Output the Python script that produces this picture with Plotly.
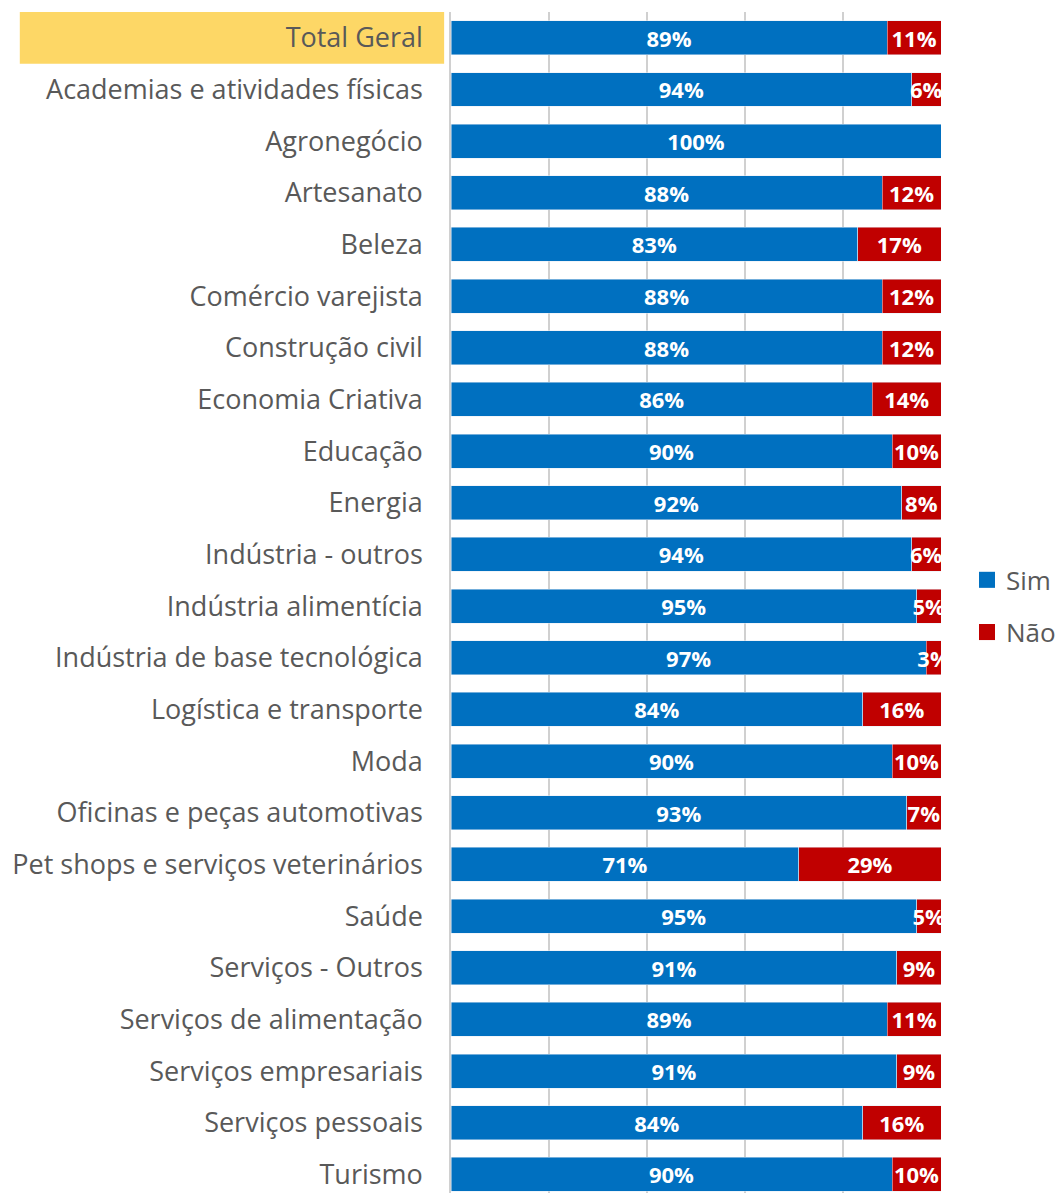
import plotly.graph_objects as go

categories = [
    "Total Geral", "Academias e atividades físicas", "Agronegócio", "Artesanato",
    "Beleza", "Comércio varejista", "Construção civil", "Economia Criativa",
    "Educação", "Energia", "Indústria - outros", "Indústria alimentícia",
    "Indústria de base tecnológica", "Logística e transporte", "Moda",
    "Oficinas e peças automotivas", "Pet shops e serviços veterinários", "Saúde",
    "Serviços - Outros", "Serviços de alimentação", "Serviços empresariais",
    "Serviços pessoais", "Turismo",
]
sim = [89, 94, 100, 88, 83, 88, 88, 86, 90, 92, 94, 95, 97, 84, 90, 93, 71, 95, 91, 89, 91, 84, 90]
nao = [11, 6, 0, 12, 17, 12, 12, 14, 10, 8, 6, 5, 3, 16, 10, 7, 29, 5, 9, 11, 9, 16, 10]
series_names = ["Sim", "Não"]

BLUE = "#0070C0"
RED = "#C00000"
GRAY = "#595959"
FONT = "Open Sans"
LBL = 22

fig = go.Figure()
for vals, name, color in [(sim, series_names[0], BLUE), (nao, series_names[1], RED)]:
    fig.add_trace(go.Bar(
        y=categories, x=vals, orientation="h", name=name, marker_color=color,
        text=[f"{v}%" if v > 0 else "" for v in vals], textposition="inside",
        insidetextanchor="middle", textangle=0, cliponaxis=False,
        textfont=dict(color="white", size=LBL, family=FONT, weight="bold"),
        showlegend=False, hoverinfo="x+y",
    ))

fig.add_shape(type="rect", xref="paper", yref="y", x0=-0.88, x1=-0.014,
              y0=-0.5, y1=0.5, fillcolor="#FDD766", line_width=0, layer="below")

# legend (key squares + text to the right of the plot)
legend_rows = [(series_names[0], BLUE, 0.5192), (series_names[1], RED, 0.4750)]
for name, color, yc in legend_rows:
    fig.add_shape(type="rect", xref="paper", yref="paper",
                  x0=1.0776, x1=1.1102, y0=yc - 0.0068, y1=yc + 0.0068,
                  fillcolor=color, line_width=0)
    fig.add_annotation(xref="paper", yref="paper", x=1.1286, y=yc, text=name,
                       showarrow=False, xanchor="left", yanchor="middle",
                       font=dict(size=26, color=GRAY, family=FONT))

fig.update_layout(
    width=1058, height=1193,
    margin=dict(l=451, r=117, t=12, b=0, autoexpand=False),
    barmode="stack", bargap=0.342,
    plot_bgcolor="white", paper_bgcolor="white",
    font=dict(family=FONT, color=GRAY, size=26),
    uniformtext=dict(minsize=LBL, mode="show"),
    showlegend=False,
    xaxis=dict(range=[0, 100], showticklabels=False, showgrid=True,
               gridcolor="#D0D0D0", gridwidth=1.5, dtick=20, zeroline=False,
               showline=False, fixedrange=True),
    yaxis=dict(type="category", range=[22.36, -0.5], showgrid=False,
               tickfont=dict(size=27, color=GRAY, family=FONT),
               ticks="", ticklabelstandoff=21, showline=True,
               linecolor="#D0D0D0", linewidth=1.5, fixedrange=True),
)

fig.write_html("out.html", config={"displayModeBar": False},
               post_script="document.body.style.margin='0';document.body.style.overflow='hidden';")
